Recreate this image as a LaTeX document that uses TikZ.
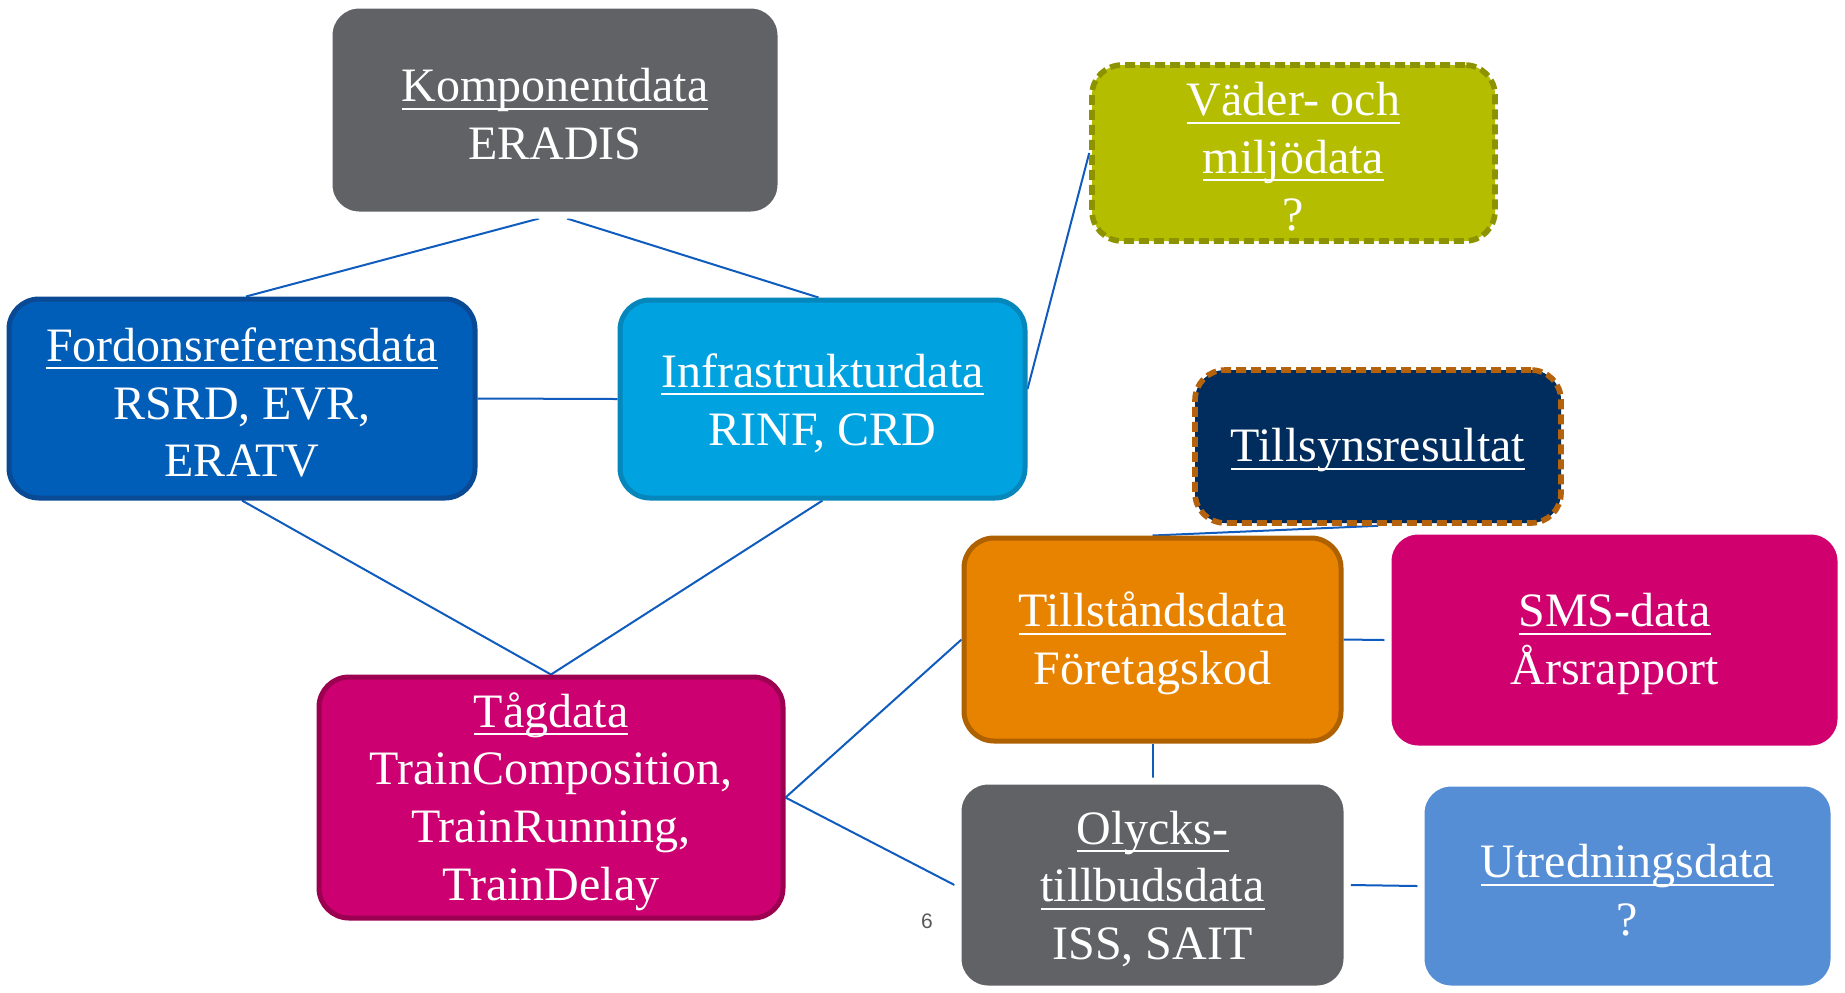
\documentclass[tikz,border=0pt]{standalone}
\usepackage{fontspec}
\setmainfont{Liberation Serif}
\newfontfamily\numfont{Liberation Sans}
\usetikzlibrary{shadows,backgrounds}

\definecolor{linkblue}{RGB}{16,92,190}
\definecolor{kompgray}{HTML}{616265}
\definecolor{fordonfill}{HTML}{005EB8}
\definecolor{fordonline}{HTML}{0A4A94}
\definecolor{infrafill}{HTML}{00A3E0}
\definecolor{infraline}{HTML}{0587BC}
\definecolor{vaderfill}{HTML}{B5BD00}
\definecolor{vaderline}{HTML}{8D9300}
\definecolor{tillsynfill}{HTML}{002D5E}
\definecolor{tillsynline}{HTML}{B4620C}
\definecolor{tillstfill}{HTML}{E88300}
\definecolor{tillstline}{HTML}{AF6100}
\definecolor{smsfill}{HTML}{D0006F}
\definecolor{utredfill}{HTML}{558ED5}
\definecolor{tagfill}{HTML}{CC0070}
\definecolor{tagline}{HTML}{9B0051}

\newsavebox\ulbox
\newcommand\ulin[1]{\sbox\ulbox{#1}\rlap{\rule[-4pt]{\wd\ulbox}{1pt}}\usebox\ulbox}

\begin{document}
\begin{tikzpicture}[x=0.5pt,y=-0.5pt,
    box/.style={rounded corners=15pt,inner sep=0pt,line width=2.5pt},
    whitebox/.style={box,draw=white,line width=3.5pt,
      drop shadow={opacity=0.18,shadow xshift=0.8pt,shadow yshift=-1.2pt}},
    dashbox/.style={box,line width=2.8pt,dash pattern=on 5pt off 2.5pt},
    every label/.style={inner sep=0pt,align=center,text=white,
      font=\fontsize{24}{28.8}\selectfont,yshift=-2pt},
    link/.style={draw=linkblue,line width=1pt}]
            \node[whitebox,fill=kompgray,minimum width=226pt,minimum height=105pt,
              label={center:{\ulin{Komponentdata}\\ERADIS}}] (komp) at (555,110) {};
            \node[box,fill=fordonfill,draw=fordonline,minimum width=233pt,minimum height=99.5pt,
              label={center:{\ulin{Fordonsreferensdata}\\RSRD, EVR,\\ERATV}}] (fordon) at (242,398.5) {};
            \node[box,fill=infrafill,draw=infraline,minimum width=202.5pt,minimum height=99pt,
              label={center:{\ulin{Infrastrukturdata}\\RINF, CRD}}] (infra) at (822.5,399) {};
            \node[dashbox,fill=vaderfill,draw=vaderline,minimum width=201.5pt,minimum height=88pt,
              label={center:{\ulin{Väder- och}\\\ulin{miljödata}\\?}}] (vader) at (1293.5,153) {};
            \node[dashbox,fill=tillsynfill,draw=tillsynline,minimum width=183pt,minimum height=76.5pt,
              label={center:{\ulin{Tillsynsresultat}}}] (tillsyn) at (1378,446.5) {};
            \node[box,fill=tillstfill,draw=tillstline,minimum width=188.5pt,minimum height=101.5pt,
              label={center:{\ulin{Tillståndsdata}\\Företagskod}}] (tillst) at (1152.5,639.5) {};
            \node[whitebox,fill=smsfill,minimum width=226.5pt,minimum height=109pt,
              label={center:{\ulin{SMS-data}\\Årsrapport}}] (sms) at (1614.5,640) {};
            \node[whitebox,fill=kompgray,minimum width=194.5pt,minimum height=104pt,
              label={center:{\ulin{Olycks-}\\\ulin{tillbudsdata}\\ISS, SAIT}}] (olycks) at (1152.5,885) {};
            \node[whitebox,fill=utredfill,minimum width=206.5pt,minimum height=103pt,
              label={center:{\ulin{Utredningsdata}\\?}}] (utred) at (1627.5,886) {};
            \node[box,fill=tagfill,draw=tagline,minimum width=232pt,minimum height=120.5pt,
              label={center:{\ulin{Tågdata}\\TrainComposition,\\TrainRunning,\\TrainDelay}}] (tag) at (551,797.5) {};
            \node[text=black!65,font=\numfont\fontsize{10.5}{12}\selectfont] (pagenum) at (927,921) {6};

            \begin{scope}[on background layer]
            \fill[white] (0,0) rectangle (1845,989);
            \path [link] ([xshift=-8pt]komp.south) edge ([xshift=2pt]fordon.north);
            \path [link] ([xshift=6pt]komp.south) edge ([xshift=-2pt]infra.north);
            \path [link] (fordon.east) edge (infra.west);
            \path [link] (fordon.south) edge (tag.north);
            \path [link] (infra.south) edge (tag.north);
            \path [link] ([yshift=5pt]infra.east) edge (vader.west);
            \path [link] (tillst.north) edge (tillsyn.south);
            \path [link] (tag.east) edge (tillst.west);
            \path [link] (tag.east) edge (olycks.west);
            \path [link] (tillst.east) edge (sms.west);
            \path [link] (tillst.south) edge (olycks.north);
            \path [link] (olycks.east) edge (utred.west);
            \end{scope}
            \useasboundingbox (0,0) rectangle (1845,989);
        \end{tikzpicture}
\end{document}
